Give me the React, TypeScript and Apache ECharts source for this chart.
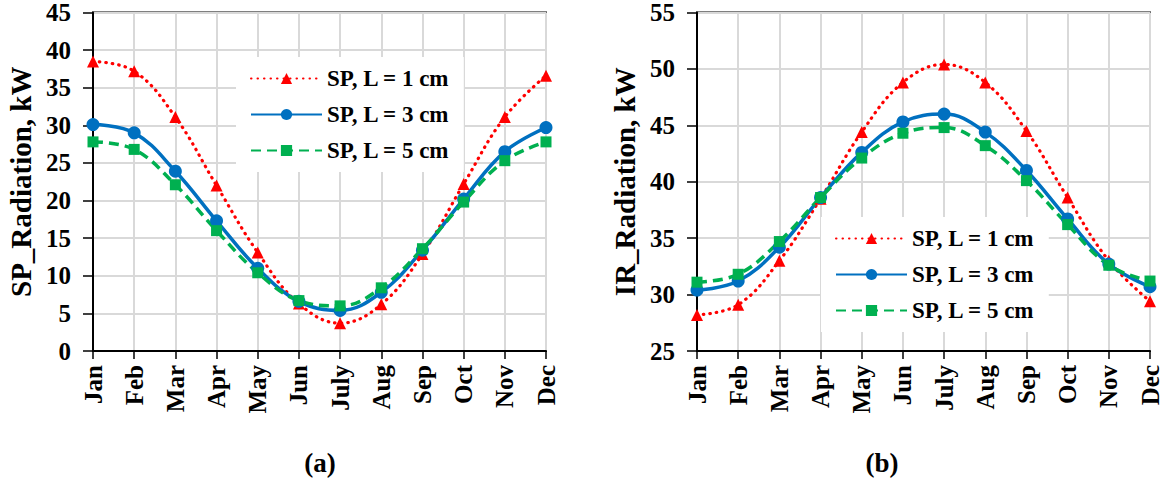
import React, { useEffect, useRef } from "react";
import * as echarts from "echarts";

const months = ["Jan", "Feb", "Mar", "Apr", "May", "Jun", "July", "Aug", "Sep", "Oct", "Nov", "Dec"];
const seriesNames = ["SP, L = 1 cm", "SP, L = 3 cm", "SP, L = 5 cm"];

// (a) SP_Radiation, kW
const spL1 = [38.5, 37.2, 31.1, 22.0, 13.1, 6.3, 3.7, 6.2, 12.9, 22.2, 31.1, 36.6];
const spL3 = [30.1, 29.0, 23.9, 17.3, 11.0, 6.6, 5.4, 7.8, 13.4, 20.2, 26.5, 29.7];
const spL5 = [27.8, 26.8, 22.1, 16.0, 10.4, 6.7, 6.0, 8.4, 13.6, 19.8, 25.3, 27.8];

// (b) IR_Radiation, kW
const irL1 = [28.2, 29.1, 33.0, 38.5, 44.4, 48.8, 50.4, 48.8, 44.5, 38.6, 33.0, 29.4];
const irL3 = [30.4, 31.2, 34.2, 38.6, 42.6, 45.3, 46.0, 44.4, 41.0, 36.7, 32.7, 30.7];
const irL5 = [31.1, 31.8, 34.7, 38.6, 42.1, 44.3, 44.8, 43.2, 40.1, 36.2, 32.6, 31.2];

const FONT = "Liberation Serif, Times New Roman, serif";
const RED = "#FF0000";
const BLUE = "#0070C0";
const GREEN = "#00B050";

export default function App() {
  const ref = useRef<HTMLDivElement>(null);
  useEffect(() => {
    if (!ref.current) return;
    const chart = echarts.init(ref.current, undefined, { renderer: "svg" });

    const xAxis = (gridIndex: number) => ({
      type: "category",
      gridIndex,
      data: months,
      boundaryGap: false,
      axisLine: { show: true, lineStyle: { color: "#000", width: 2 } },
      axisTick: { show: true, alignWithLabel: true, length: 8, lineStyle: { color: "#000", width: 1.5 } },
      axisLabel: { rotate: 90, fontFamily: FONT, fontWeight: "bold", fontSize: 25, color: "#000", margin: 14 },
      splitLine: { show: true, lineStyle: { color: "#D9D9D9", width: 2 } },
    });

    const yAxis = (gridIndex: number, min: number, max: number, name: string) => ({
      type: "value",
      gridIndex,
      min,
      max,
      interval: 5,
      name,
      nameLocation: "middle",
      nameRotate: 90,
      nameGap: 58,
      nameTextStyle: { fontFamily: FONT, fontWeight: "bold", fontSize: 29, color: "#000" },
      axisLine: { show: true, lineStyle: { color: "#000", width: 2 } },
      axisTick: { show: true, length: 10, lineStyle: { color: "#000", width: 1.5 } },
      axisLabel: { fontFamily: FONT, fontWeight: "bold", fontSize: 25, color: "#000", margin: 22 },
      splitLine: { show: true, lineStyle: { color: "#D9D9D9", width: 2 } },
    });

    const mk = (data: number[], idx: number, xi: number) => {
      const styles = [
        { color: RED, type: [0.5, 6], width: 3.2, symbol: "triangle", size: 12 },
        { color: BLUE, type: "solid", width: 3.5, symbol: "circle", size: 13 },
        { color: GREEN, type: [10, 6], width: 3.5, symbol: "rect", size: 11 },
      ][idx];
      return {
        type: "line",
        name: seriesNames[idx],
        xAxisIndex: xi,
        yAxisIndex: xi,
        data,
        smooth: 0.4,
        symbol: styles.symbol,
        symbolSize: styles.size,
        showSymbol: true,
        lineStyle: { color: styles.color, type: styles.type, width: styles.width, cap: idx === 0 ? "round" : "butt" },
        itemStyle: { color: styles.color },
      };
    };

    const legend = (left: number, top: number) => ({
      orient: "vertical",
      left,
      top,
      data: seriesNames,
      itemWidth: 71,
      itemHeight: 14,
      itemGap: 13,
      backgroundColor: "#fff",
      padding: [10, 14, 10, 14],
      textStyle: { fontFamily: FONT, fontWeight: "bold", fontSize: 23, lineHeight: 23, color: "#000" },
      selectedMode: false,
    });

    const caption = (text: string, x: number) => ({
      type: "text",
      x,
      y: 463,
      style: {
        text,
        fontFamily: FONT,
        fontWeight: "bold",
        fontSize: 27,
        fill: "#000",
        align: "center",
        verticalAlign: "middle",
      },
    });

    chart.setOption({
      animation: false,
      backgroundColor: "#fff",
      grid: [
        { left: 93, top: 12, width: 453, height: 339, show: true, borderColor: "#000", borderWidth: 2, containLabel: false },
        { left: 697, top: 12, width: 453, height: 339, show: true, borderColor: "#000", borderWidth: 2, containLabel: false },
      ],
      xAxis: [xAxis(0), xAxis(1)],
      yAxis: [yAxis(0, 0, 45, "SP_Radiation, kW"), yAxis(1, 25, 55, "IR_Radiation, kW")],
      legend: [legend(236, 57), legend(821, 217)],
      series: [
        mk(spL1, 0, 0),
        mk(spL3, 1, 0),
        mk(spL5, 2, 0),
        mk(irL1, 0, 1),
        mk(irL3, 1, 1),
        mk(irL5, 2, 1),
      ],
      graphic: [caption("(a)", 320), caption("(b)", 882)],
    });
    return () => chart.dispose();
  }, []);
  return <div ref={ref} style={{ position: "absolute", left: 0, top: 0, width: 1166, height: 479 }} />;
}
